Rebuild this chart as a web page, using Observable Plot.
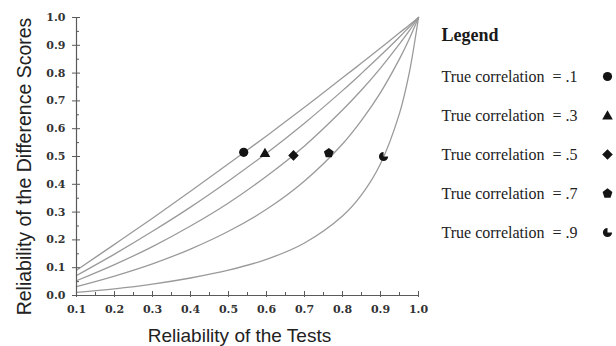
<!DOCTYPE html>
<html><head><meta charset="utf-8">
<script src="https://cdn.jsdelivr.net/npm/d3@7"></script>
<script src="https://cdn.jsdelivr.net/npm/@observablehq/plot@0.6"></script>
<style>
body{margin:0;background:#fff;}
#wrap{position:relative;width:616px;height:346px;overflow:hidden;}
#chart{position:absolute;left:0;top:0;}
#legend{position:absolute;left:420px;top:0;}
</style></head><body>
<div id="wrap"><div id="chart"></div><div id="legend"></div></div>
<script>
// ---- data ----
const testReliability = [0.1, 0.2, 0.3, 0.4, 0.5, 0.6, 0.7, 0.8, 0.85, 0.9, 0.95, 0.975, 1.0];
const diffRelCorr1 = [0.091, 0.184, 0.278, 0.375, 0.474, 0.574, 0.677, 0.783, 0.836, 0.890, 0.945, 0.972, 1.0];
const diffRelCorr3 = [0.072, 0.149, 0.231, 0.318, 0.412, 0.512, 0.620, 0.737, 0.799, 0.863, 0.930, 0.965, 1.0];
const diffRelCorr5 = [0.053, 0.111, 0.176, 0.250, 0.333, 0.429, 0.538, 0.667, 0.739, 0.818, 0.905, 0.951, 1.0];
const diffRelCorr7 = [0.032, 0.070, 0.114, 0.167, 0.231, 0.310, 0.412, 0.545, 0.630, 0.730, 0.851, 0.921, 1.0];
const diffRelCorr9 = [0.011, 0.024, 0.041, 0.063, 0.091, 0.130, 0.189, 0.286, 0.362, 0.474, 0.655, 0.796, 1.0];
const correlations = [
  "True correlation\u00a0 = .1",
  "True correlation\u00a0 = .3",
  "True correlation\u00a0 = .5",
  "True correlation\u00a0 = .7",
  "True correlation\u00a0 = .9"
];
const markerX = [0.54, 0.596, 0.671, 0.764, 0.908];
const markerY = [0.515, 0.512, 0.504, 0.512, 0.50];
const xTicks = [0.1, 0.2, 0.3, 0.4, 0.5, 0.6, 0.7, 0.8, 0.9, 1.0];
const xMinorTicks = [0.15, 0.25, 0.35, 0.45, 0.55, 0.65, 0.75, 0.85, 0.95];
const yTicks = [0.0, 0.1, 0.2, 0.3, 0.4, 0.5, 0.6, 0.7, 0.8, 0.9, 1.0];
const yMinorTicks = [0.05, 0.15, 0.25, 0.35, 0.45, 0.55, 0.65, 0.75, 0.85, 0.95];
const xTitle = "Reliability of the Tests";
const yTitle = "Reliability of the Difference Scores";
const legendTitle = "Legend";

// ---- build tables ----
const seriesValues = [diffRelCorr1, diffRelCorr3, diffRelCorr5, diffRelCorr7, diffRelCorr9];
const curves = [];
seriesValues.forEach((vals, i) => vals.forEach((v, j) => curves.push({x: testReliability[j], y: v, corr: correlations[i]})));
const markers = markerX.map((x, i) => ({x, y: markerY[i], corr: correlations[i]}));

// ---- custom symbols ----
const rad = size => Math.sqrt(size / Math.PI);
const circleSym = {draw(c, s) { const r = rad(s); c.moveTo(r, 0); c.arc(0, 0, r, 0, 2 * Math.PI); c.closePath(); }};
const triangleSym = {draw(c, s) { const r = rad(s); c.moveTo(0, -1.15 * r); c.lineTo(1.15 * r, 0.85 * r); c.lineTo(-1.15 * r, 0.85 * r); c.closePath(); }};
const diamondSym = {draw(c, s) { const d = 1.15 * rad(s); c.moveTo(0, -d); c.lineTo(d, 0); c.lineTo(0, d); c.lineTo(-d, 0); c.closePath(); }};
const pentagonSym = {draw(c, s) { const R = 1.12 * rad(s); for (let i = 0; i < 5; i++) { const a = -Math.PI / 2 + i * 2 * Math.PI / 5; const px = R * Math.cos(a), py = R * Math.sin(a); if (i === 0) c.moveTo(px, py); else c.lineTo(px, py); } c.closePath(); }};
const pacmanSym = {draw(c, s) { const r = rad(s); c.moveTo(0, 0); c.lineTo(r, 0); c.arc(0, 0, r, 0, 1.5 * Math.PI); c.closePath(); }};
const symbolRange = [circleSym, triangleSym, diamondSym, pentagonSym, pacmanSym];

const axisColor = "#5a5a5a";
const tickFont = {fontFamily: "DejaVu Serif", fontSize: 11, fontWeight: "bold", fill: "#333"};

const chart = Plot.plot({
  width: 616, height: 346,
  marginLeft: 76, marginRight: 198, marginTop: 17, marginBottom: 51,
  x: {domain: [xTicks[0], xTicks[xTicks.length - 1]]},
  y: {domain: [yTicks[0], yTicks[yTicks.length - 1]]},
  symbol: {domain: correlations, range: symbolRange},
  style: {background: "white", overflow: "visible"},
  marks: [
    Plot.line(curves, {x: "x", y: "y", z: "corr", stroke: "#9a9a9a", strokeWidth: 1.3, curve: "catmull-rom"}),
    Plot.ruleY([yTicks[0]], {stroke: axisColor, strokeWidth: 1.2}),
    Plot.ruleX([xTicks[0]], {stroke: axisColor, strokeWidth: 1.2}),
    // y ticks
    Plot.axisY(yTicks, {tickSize: 8, dx: 4, tickFormat: () => "", label: null, stroke: axisColor}),
    Plot.axisY(yMinorTicks, {tickSize: 3, dx: 3, tickFormat: () => "", label: null, stroke: axisColor}),
    Plot.axisY(yTicks, {tickSize: 0, tickPadding: 11, tickFormat: d3.format(".1f"), label: null, ...tickFont}),
    // x ticks
    Plot.axisX(xTicks, {tickSize: 6, dy: -4, tickFormat: () => "", label: null, stroke: axisColor}),
    Plot.axisX(xMinorTicks, {tickSize: 3, dy: -3, tickFormat: () => "", label: null, stroke: axisColor}),
    Plot.axisX(xTicks, {tickSize: 0, tickPadding: 10, tickFormat: d3.format(".1f"), label: null, ...tickFont}),
    // titles
    Plot.text([xTitle], {text: d => d, frameAnchor: "bottom", textAnchor: "middle", dx: -8, dy: 40, lineAnchor: "middle",
      fontFamily: "Liberation Sans", fontSize: 19, fill: "#222"}),
    Plot.text([yTitle], {text: d => d, frameAnchor: "left", textAnchor: "middle", rotate: -90, dx: -52, dy: 10, lineAnchor: "middle",
      fontFamily: "Liberation Sans", fontSize: 19.5, fill: "#222"}),
    // markers
    Plot.dot(markers, {x: "x", y: "y", symbol: "corr", fill: "#141414", r: 4.6})
  ]
});
document.getElementById("chart").append(chart);

const legend = Plot.plot({
  width: 196, height: 346,
  marginLeft: 21, marginRight: 9, marginTop: 75, marginBottom: 114,
  y: {type: "point", domain: correlations, padding: 0, axis: null},
  symbol: {domain: correlations, range: symbolRange},
  style: {background: "transparent", overflow: "visible"},
  marks: [
    Plot.text([legendTitle], {text: d => d, frameAnchor: "top-left", textAnchor: "start", lineAnchor: "middle", dy: -40,
      fontFamily: "Liberation Serif", fontSize: 18, fontWeight: "bold", fill: "#1a1a1a"}),
    Plot.text(correlations, {y: d => d, text: d => d, frameAnchor: "left", textAnchor: "start",
      fontFamily: "Liberation Serif", fontSize: 16, fill: "#222"}),
    Plot.dot(correlations, {y: d => d, symbol: d => d, frameAnchor: "right", fill: "#141414", r: 4.6})
  ]
});
document.getElementById("legend").append(legend);
</script>
</body></html>
